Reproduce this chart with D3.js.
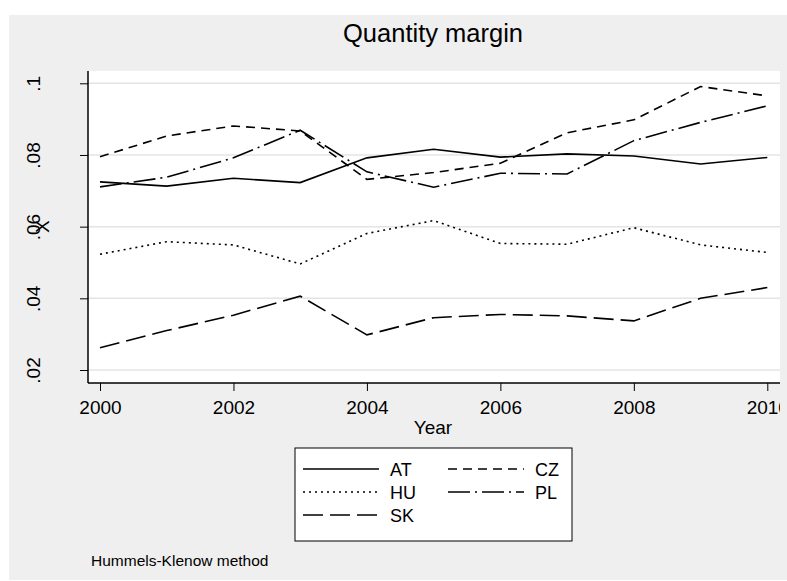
<!DOCTYPE html>
<html>
<head>
<meta charset="utf-8">
<script src="https://cdn.jsdelivr.net/npm/d3@7"></script>
<style>
  html, body { margin: 0; padding: 0; background: #ffffff; }
  svg { display: block; font-family: "Liberation Sans", Arial, Helvetica, sans-serif; }
</style>
</head>
<body>
<svg id="chart" width="787" height="581"></svg>
<script>
// Quantity margin by country, 2000-2010 (Hummels-Klenow decomposition)
const years = [2000, 2001, 2002, 2003, 2004, 2005, 2006, 2007, 2008, 2009, 2010];
const countries = ["AT", "CZ", "HU", "PL", "SK"];
const valuesAT = [0.0725, 0.0713, 0.0735, 0.0723, 0.0792, 0.0816, 0.0794, 0.0803, 0.0797, 0.0775, 0.0793];
const valuesCZ = [0.0795, 0.0853, 0.0881, 0.0867, 0.0732, 0.0751, 0.0777, 0.0862, 0.0898, 0.0991, 0.0965];
const valuesHU = [0.0523, 0.0558, 0.0549, 0.0496, 0.0581, 0.0617, 0.0553, 0.0551, 0.0597, 0.0549, 0.0528];
const valuesPL = [0.0711, 0.0738, 0.0792, 0.0869, 0.0753, 0.0710, 0.0749, 0.0747, 0.0840, 0.0891, 0.0937];
const valuesSK = [0.0262, 0.0310, 0.0353, 0.0406, 0.0298, 0.0346, 0.0355, 0.0351, 0.0337, 0.0400, 0.0430];
const yTickValues = [0.02, 0.04, 0.06, 0.08, 0.1];
const yTickLabels = [".02", ".04", ".06", ".08", ".1"];
const xTickValues = [2000, 2002, 2004, 2006, 2008, 2010];

const seriesValues = { AT: valuesAT, CZ: valuesCZ, HU: valuesHU, PL: valuesPL, SK: valuesSK };
const dashes = { AT: null, CZ: "9,6", HU: "2,4", PL: "22,5,2,5", SK: "20,7" };

const svg = d3.select("#chart");

// plot region
const plot = { left: 88, top: 71, right: 780, bottom: 383 };

const x = d3.scaleLinear().domain([2000, 2010]).range([100, 767.3]);
const y = d3.scaleLinear().domain([0.02, 0.1]).range([370, 83.3]);

// outer graph background
svg.append("rect").attr("x", 9).attr("y", 15).attr("width", 778).attr("height", 565)
  .attr("fill", "#efefef");

// plot background
svg.append("rect").attr("x", plot.left).attr("y", plot.top)
  .attr("width", plot.right - plot.left).attr("height", plot.bottom - plot.top)
  .attr("fill", "#ffffff");

// horizontal grid
svg.append("g").selectAll("line").data(yTickValues).join("line")
  .attr("x1", plot.left).attr("x2", plot.right)
  .attr("y1", d => y(d)).attr("y2", d => y(d))
  .attr("stroke", "#e4e4e4").attr("stroke-width", 1.5);

// title
svg.append("text").attr("x", 433).attr("y", 42).attr("text-anchor", "middle")
  .attr("font-size", 25.5).attr("fill", "#000").text("Quantity margin");

// y axis
const yAxis = d3.axisLeft(y).tickValues(yTickValues)
  .tickFormat((d, i) => yTickLabels[i]).tickSize(8).tickSizeOuter(0);
const gy = svg.append("g").attr("transform", `translate(${plot.left},0)`).call(yAxis);
gy.select(".domain").remove();
gy.selectAll(".tick line").attr("stroke", "#000").attr("stroke-width", 1);
gy.selectAll(".tick text")
  .attr("font-size", 19).attr("fill", "#000")
  .attr("text-anchor", "middle")
  .attr("x", null).attr("dy", null)
  .attr("transform", "translate(-48,0) rotate(-90)");
svg.append("line").attr("x1", plot.left).attr("x2", plot.left)
  .attr("y1", plot.top).attr("y2", plot.bottom).attr("stroke", "#000").attr("stroke-width", 1.5);

// y axis title
svg.append("text").attr("transform", `translate(49,${y(0.06)}) rotate(-90)`)
  .attr("text-anchor", "middle").attr("font-size", 19).attr("fill", "#000").text("X");

// x axis (labels clipped at the plot's right edge)
svg.append("defs").append("clipPath").attr("id", "xclip")
  .append("rect").attr("x", 0).attr("y", 0).attr("width", plot.right).attr("height", 581);
const xAxis = d3.axisBottom(x).tickValues(xTickValues)
  .tickFormat(d3.format("d")).tickSize(8).tickSizeOuter(0);
const gx = svg.append("g").attr("transform", `translate(0,${plot.bottom})`)
  .attr("clip-path", "url(#xclip)").call(xAxis);
gx.select(".domain").remove();
gx.selectAll(".tick line").attr("stroke", "#000").attr("stroke-width", 1);
gx.selectAll(".tick text").attr("font-size", 19).attr("fill", "#000")
  .attr("y", 31).attr("dy", null);
svg.append("line").attr("x1", plot.left).attr("x2", plot.right)
  .attr("y1", plot.bottom).attr("y2", plot.bottom).attr("stroke", "#000").attr("stroke-width", 1.5);

// x axis title
svg.append("text").attr("x", 433).attr("y", 434).attr("text-anchor", "middle")
  .attr("font-size", 19).attr("fill", "#000").text("Year");

// series lines
const line = d3.line().x((d, i) => x(years[i])).y(d => y(d));
svg.append("g").selectAll("path").data(countries).join("path")
  .attr("d", c => line(seriesValues[c]))
  .attr("fill", "none").attr("stroke", "#000").attr("stroke-width", 1.6)
  .attr("stroke-dasharray", c => dashes[c]);

// legend
const legend = svg.append("g");
legend.append("rect").attr("x", 295).attr("y", 448).attr("width", 277).attr("height", 93)
  .attr("fill", "#fff").attr("stroke", "#000").attr("stroke-width", 1);
const legendOrder = ["AT", "CZ", "HU", "PL", "SK"];
const items = legend.selectAll("g.item").data(legendOrder).join("g")
  .attr("class", "item")
  .attr("transform", (c, i) => `translate(${i % 2 === 0 ? 303 : 448},${469 + Math.floor(i / 2) * 23})`);
items.append("line").attr("x1", 0).attr("x2", 76).attr("y1", 0).attr("y2", 0)
  .attr("stroke", "#000").attr("stroke-width", 1.6)
  .attr("stroke-dasharray", c => dashes[c]);
items.append("text").attr("x", 87).attr("y", 6.5).attr("font-size", 18).attr("fill", "#000")
  .text(c => c);

// note
svg.append("text").attr("x", 91).attr("y", 566).attr("font-size", 15.5).attr("fill", "#000")
  .text("Hummels-Klenow method");
</script>
</body>
</html>
